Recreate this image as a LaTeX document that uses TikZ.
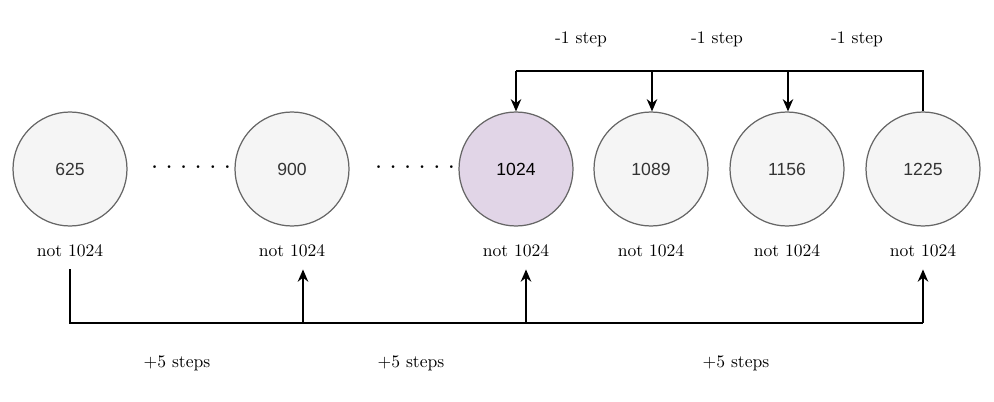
\documentclass[tikz,border=0pt]{standalone}
\usepackage{fontspec}
\newfontfamily\numfont{Liberation Sans}
\usepackage{tikz}
\usetikzlibrary{calc, positioning, arrows.meta}
\definecolor{nodefill}{HTML}{F5F5F5}
\definecolor{nodeline}{HTML}{666666}
\definecolor{nodetext}{HTML}{333333}
\definecolor{hitfill}{HTML}{E1D5E7}
\tikzset{
    circlenode/.style = {circle, draw=nodeline, line width=0.7pt, fill=nodefill, minimum size=2.28cm,
      inner sep=0em, text=nodetext, font=\numfont\normalsize},
    hitnode/.style = {circlenode, fill=hitfill, text=black},
    textnode/.style = {draw=none, fill=none, rectangle, inner sep=0.15em, font=\normalsize},
    labelnode/.style = {textnode, outer ysep=5.5pt},
    dotsnode/.style = {draw=none, fill=none, inner sep=0em, font=\bfseries\normalsize},
    connect/.style = {black, line width=0.8pt, -{Stealth[length=7pt, width=6pt]}},
    plainline/.style = {black, line width=0.8pt}
}

\begin{document}
\begin{tikzpicture}[x=0.02cm, y=-0.02cm]
    \useasboundingbox (0,0) rectangle (994,402);

    \node [name=n625, circlenode] at (70,169) {625};
    \node [name=n900, circlenode] at (292,169) {900};
    \node [name=n1024, hitnode] at (516,169) {1024};
    \node [name=n1089, circlenode] at (651,169) {1089};
    \node [name=n1156, circlenode] at (787,169) {1156};
    \node [name=n1225, circlenode] at (923,169) {1225};

    \node [name=dotsa, dotsnode] at (191,167) {. . . . . .};
    \node [name=dotsb, dotsnode] at (415,167) {. . . . . .};

    \node [name=l625, labelnode] at (70,251) {not 1024};
    \node [name=l900, labelnode] at (292,251) {not 1024};
    \node [name=l1024, labelnode] at (516,251) {not 1024};
    \node [name=l1089, labelnode] at (651,251) {not 1024};
    \node [name=l1156, labelnode] at (787,251) {not 1024};
    \node [name=l1225, labelnode] at (923,251) {not 1024};

    % -1 step going back
    \coordinate (top) at (0,71);
    \draw [plainline] (n1225.north) -- (n1225.north |- top) -- (n1024.north |- top);
    \draw [connect] (n1024.north |- top) -- (n1024.north);
    \draw [connect] ($(n1089.north |- top)+(1,0)$) -- ($(n1089.north)+(1,0)$);
    \draw [connect] ($(n1156.north |- top)+(1,0)$) -- ($(n1156.north)+(1,0)$);
    \node [name=m1, textnode] at (581,39) {-1 step};
    \node [name=m2, textnode] at (717,39) {-1 step};
    \node [name=m3, textnode] at (857,39) {-1 step};

    % +5 steps going forward
    \coordinate (bot) at (0,323);
    \coordinate (up1) at (303,323);
    \coordinate (up2) at (526,323);
    \draw [plainline] (l625.south) -- (l625.south |- bot) -- (l1225.south |- bot);
    \draw [connect] (up1) -- (up1 |- l900.south);
    \draw [connect] (up2) -- (up2 |- l1024.south);
    \draw [connect] (l1225.south |- bot) -- (l1225.south);
    \node [name=p1, textnode] at (177,363) {+5 steps};
    \node [name=p2, textnode] at (411,363) {+5 steps};
    \node [name=p3, textnode] at (736,363) {+5 steps};
\end{tikzpicture}
\end{document}
